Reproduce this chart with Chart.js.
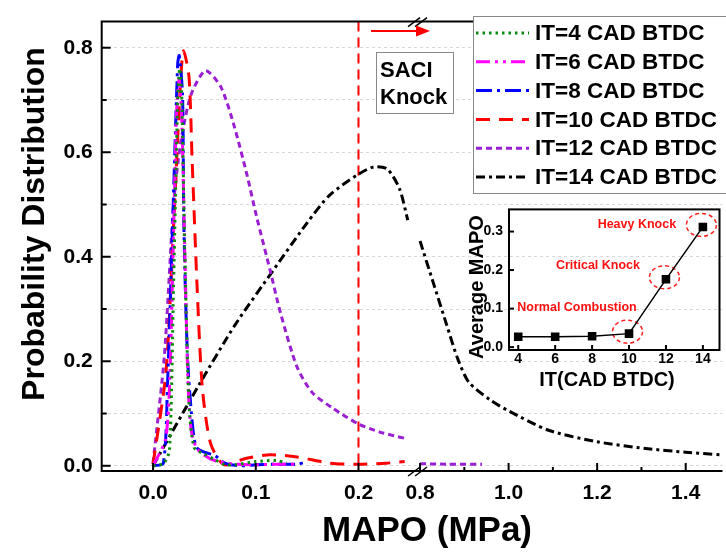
<!DOCTYPE html>
<html>
<head>
<meta charset="utf-8">
<script src="https://cdn.jsdelivr.net/npm/chart.js@4.4.1/dist/chart.umd.min.js"></script>
<style>
  html, body { margin: 0; padding: 0; background: #fff; }
  #wrap { position: relative; width: 726px; height: 554px; overflow: hidden; }
  #main { position: absolute; left: 0; top: 0; }
  #inset { position: absolute; left: 460px; top: 195px; }
</style>
</head>
<body>
<div id="wrap">
  <canvas id="main" width="726" height="554"></canvas>
  <canvas id="inset" width="266" height="205"></canvas>
</div>
<script>
// ---- data: MAPO (MPa) vs probability, left part of the broken axis ----
const it4X = [0, 0.01, 0.016, 0.02, 0.024, 0.026, 0.028, 0.031, 0.035, 0.04, 0.05, 0.06, 0.07, 0.08, 0.1, 0.12, 0.13];
const it4Y = [0, 0.004, 0.03, 0.35, 0.70, 0.76, 0.70, 0.40, 0.12, 0.035, 0.022, 0.012, 0.002, 0.002, 0.008, 0.01, 0.005];

const it6X = [0, 0.012, 0.016, 0.02, 0.023, 0.0255, 0.028, 0.031, 0.034, 0.037, 0.042, 0.05, 0.06, 0.075, 0.1, 0.12, 0.14];
const it6Y = [0, 0.05, 0.15, 0.45, 0.68, 0.74, 0.66, 0.40, 0.16, 0.07, 0.035, 0.02, 0.01, 0.004, 0.002, 0.003, 0.003];

const it8X = [0, 0.01, 0.014, 0.019, 0.024, 0.0255, 0.0287, 0.03, 0.0335, 0.038, 0.042, 0.05, 0.06, 0.07, 0.085, 0.1, 0.12, 0.14, 0.15];
const it8Y = [0, 0.005, 0.15, 0.46, 0.77, 0.785, 0.71, 0.46, 0.21, 0.086, 0.036, 0.026, 0.02, 0.005, 0, 0.002, 0.003, 0.003, 0.008];

const it10X = [0, 0.0126, 0.02, 0.027, 0.0297, 0.035, 0.038, 0.043, 0.048, 0.056, 0.069, 0.09, 0.114, 0.14, 0.172, 0.2, 0.227, 0.245];
const it10Y = [0.003, 0.18, 0.46, 0.744, 0.794, 0.744, 0.587, 0.337, 0.149, 0.043, 0.002, 0.014, 0.021, 0.017, 0.005, 0.003, 0.005, 0.008];

const it12X = [0, 0.011, 0.02, 0.027, 0.037, 0.051, 0.066, 0.079, 0.0915, 0.101, 0.114, 0.124, 0.14, 0.155, 0.175, 0.2, 0.22, 0.246];
const it12Y = [0.005, 0.21, 0.50, 0.62, 0.71, 0.756, 0.725, 0.65, 0.556, 0.475, 0.374, 0.293, 0.19, 0.14, 0.11, 0.08, 0.065, 0.052];

const it14X = [0, 0.043, 0.08, 0.117, 0.15, 0.172, 0.2, 0.215, 0.228, 0.24, 0.248];
const it14Y = [0, 0.149, 0.27, 0.374, 0.465, 0.518, 0.558, 0.572, 0.568, 0.53, 0.47];

// right part of the broken axis (0.8 - 1.48 MPa)
const it12RightX = [0.8, 0.86, 0.94];
const it12RightY = [0.004, 0.003, 0.003];

const it14RightX = [0.8, 0.83, 0.86, 0.885, 0.91, 0.96, 1.0, 1.09, 1.2, 1.31, 1.4, 1.48];
const it14RightY = [0.43, 0.35, 0.27, 0.205, 0.16, 0.125, 0.105, 0.068, 0.046, 0.033, 0.026, 0.021];

const leftTicks = [0, 0.1, 0.2];
const rightTicks = [0.8, 0.9, 1.0, 1.1, 1.2, 1.3, 1.4];
const yTicks = [0, 0.1, 0.2, 0.3, 0.4, 0.5, 0.6, 0.7, 0.8];
const knockThreshold = 0.2;

// inset: average MAPO vs injection timing
const itValues = [4, 6, 8, 10, 12, 14];
const avgMapo = [0.027, 0.027, 0.028, 0.035, 0.176, 0.312];
const insetYTicks = [0, 0.1, 0.2, 0.3];
const stageNames = ['Normal Combustion', 'Critical Knock', 'Heavy Knock'];
const stageIT = [10, 12, 14];

const FONT = "'Liberation Sans', Arial, sans-serif";

function pts(xs, ys) {
    return xs.map((x, i) => ({ x: x, y: ys[i] }));
}

function line(label, xs, ys, color, dash, axis) {
    return {
        label: label,
        data: pts(xs, ys),
        xAxisID: axis || 'x',
        borderColor: color,
        borderDash: dash,
        borderWidth: 3,
        borderCapStyle: 'butt',
        pointRadius: 0,
        tension: 0.25,
        fill: false
    };
}

const styles = {
    it4: ['#0a8a0a', [2.5, 4]],
    it6: ['#ff00ff', [14, 5, 3, 5, 3, 5]],
    it8: ['#0000ff', [16, 5, 3, 5]],
    it10: ['#ff0000', [14, 9]],
    it12: ['#9a1fd3', [6, 4]],
    it14: ['#000000', [9, 4, 3, 4]]
};

const datasets = [
    line('IT=4 CAD BTDC', it4X, it4Y, ...styles.it4),
    line('IT=6 CAD BTDC', it6X, it6Y, ...styles.it6),
    line('IT=8 CAD BTDC', it8X, it8Y, ...styles.it8),
    line('IT=10 CAD BTDC', it10X, it10Y, ...styles.it10),
    line('IT=12 CAD BTDC', it12X, it12Y, ...styles.it12),
    line('IT=14 CAD BTDC', it14X, it14Y, ...styles.it14),
    line('', it12RightX, it12RightY, ...styles.it12, 'x2'),
    line('', it14RightX, it14RightY, ...styles.it14, 'x2')
];

function drawInwardTicks(ctx, scale, majorLen, minorLen, isMajor) {
    ctx.save();
    ctx.strokeStyle = '#000';
    ctx.lineWidth = 2;
    scale.ticks.forEach(t => {
        const len = isMajor(t.value) ? majorLen : minorLen;
        const p = scale.getPixelForValue(t.value);
        ctx.beginPath();
        if (scale.isHorizontal()) {
            ctx.moveTo(p, scale.top);
            ctx.lineTo(p, scale.top - len);
        } else {
            ctx.moveTo(scale.right, p);
            ctx.lineTo(scale.right + len, p);
        }
        ctx.stroke();
    });
    ctx.restore();
}

const evenTenth = v => Math.round(v * 10) % 2 === 0;

function breakMark(ctx, x, y) {
    ctx.save();
    ctx.strokeStyle = '#000';
    ctx.lineWidth = 1.5;
    [-4, 3].forEach(o => {
        ctx.beginPath();
        ctx.moveTo(x + o - 6, y + 5);
        ctx.lineTo(x + o + 6, y - 4);
        ctx.stroke();
    });
    ctx.restore();
}

const mainDecor = {
    id: 'mainDecor',
    beforeDatasetsDraw(chart) {
        const ctx = chart.ctx, a = chart.chartArea;
        const px = chart.scales.x.getPixelForValue(knockThreshold);
        ctx.save();
        ctx.strokeStyle = '#ff0000';
        ctx.lineWidth = 2;
        ctx.setLineDash([10, 6]);
        ctx.beginPath();
        ctx.moveTo(px, a.top);
        ctx.lineTo(px, a.bottom);
        ctx.stroke();
        ctx.restore();
    },
    afterDraw(chart) {
        const ctx = chart.ctx, a = chart.chartArea;
        const xs = chart.scales.x, x2 = chart.scales.x2, ys = chart.scales.y;

        // axis lines
        ctx.save();
        ctx.strokeStyle = '#000';
        ctx.lineWidth = 2;
        ctx.beginPath();
        ctx.moveTo(a.left, a.top);
        ctx.lineTo(a.right, a.top);
        ctx.moveTo(a.left, a.top - 1);
        ctx.lineTo(a.left, a.bottom + 1);
        ctx.moveTo(a.left - 1, a.bottom);
        ctx.lineTo(a.right, a.bottom);
        ctx.stroke();
        ctx.restore();

        drawInwardTicks(ctx, ys, 9, 5, evenTenth);
        drawInwardTicks(ctx, xs, 8, 4, () => true);
        drawInwardTicks(ctx, x2, 8, 4, evenTenth);

        breakMark(ctx, xs.right, a.bottom);
        breakMark(ctx, xs.right, a.top);

        // arrow pointing into the knock region
        ctx.save();
        ctx.strokeStyle = '#ff0000';
        ctx.fillStyle = '#ff0000';
        ctx.lineWidth = 2;
        ctx.beginPath();
        ctx.moveTo(371, 31);
        ctx.lineTo(418, 31);
        ctx.stroke();
        ctx.beginPath();
        ctx.moveTo(430, 31);
        ctx.lineTo(416, 25.5);
        ctx.lineTo(416, 36.5);
        ctx.closePath();
        ctx.fill();
        ctx.restore();

        // SACI Knock box
        ctx.save();
        ctx.fillStyle = '#fff';
        ctx.fillRect(376, 52, 77, 61);
        ctx.strokeStyle = '#888';
        ctx.lineWidth = 1;
        ctx.strokeRect(376.5, 52.5, 77, 61);
        ctx.fillStyle = '#000';
        ctx.font = 'bold 22px ' + FONT;
        ctx.textAlign = 'left';
        ctx.textBaseline = 'middle';
        ctx.fillText('SACI', 380, 71);
        ctx.fillText('Knock', 380, 98);
        ctx.restore();

        // legend box
        ctx.save();
        ctx.fillStyle = '#fff';
        ctx.fillRect(473, 16, 260, 177);
        ctx.strokeStyle = '#888';
        ctx.lineWidth = 1;
        ctx.strokeRect(473.5, 16.5, 260, 177);
        ctx.font = 'bold 22.5px ' + FONT;
        ctx.textAlign = 'left';
        ctx.textBaseline = 'middle';
        chart.data.datasets.filter(d => d.label).forEach((d, i) => {
            const y = 33 + i * 28.8;
            ctx.strokeStyle = d.borderColor;
            ctx.lineWidth = 3;
            ctx.setLineDash(d.borderDash);
            ctx.beginPath();
            ctx.moveTo(476, y);
            ctx.lineTo(529, y);
            ctx.stroke();
            ctx.setLineDash([]);
            ctx.fillStyle = '#000';
            ctx.fillText(d.label, 535, y + 1);
        });
        ctx.restore();

        // axis titles
        ctx.save();
        ctx.fillStyle = '#000';
        ctx.textAlign = 'center';
        ctx.textBaseline = 'middle';
        ctx.font = 'bold 35px ' + FONT;
        ctx.fillText('MAPO (MPa)', 427, 531);
        ctx.translate(35, 224);
        ctx.rotate(-Math.PI / 2);
        ctx.font = 'bold 32px ' + FONT;
        ctx.fillText('Probability Distribution', 0, 0);
        ctx.restore();
    }
};

const tickFont = { family: FONT, size: 21, weight: 'bold' };

new Chart(document.getElementById('main'), {
    type: 'line',
    data: { datasets: datasets },
    options: {
        responsive: false,
        animation: false,
        layout: { padding: { top: 13, right: 0, left: 0, bottom: 0 } },
        plugins: { legend: { display: false }, tooltip: { enabled: false } },
        scales: {
            x: {
                type: 'linear', position: 'bottom', stack: 'mapo', stackWeight: 318,
                min: -0.05, max: 0.258,
                afterBuildTicks: s => { s.ticks = leftTicks.map(v => ({ value: v })); },
                afterFit: s => { s.height = 83; },
                grid: { display: false, drawTicks: false },
                border: { display: false },
                ticks: { autoSkip: false, maxRotation: 0, padding: 10, color: '#000', font: tickFont,
                    callback: v => v.toFixed(1) }
            },
            x2: {
                type: 'linear', position: 'bottom', stack: 'mapo', stackWeight: 306,
                min: 0.7955, max: 1.483,
                afterBuildTicks: s => { s.ticks = rightTicks.map(v => ({ value: v })); },
                afterFit: s => { s.height = 83; },
                grid: { display: false, drawTicks: false },
                border: { display: false },
                ticks: { autoSkip: false, maxRotation: 0, padding: 10, color: '#000', font: tickFont,
                    callback: v => evenTenth(v) ? v.toFixed(1) : '' }
            },
            y: {
                type: 'linear', position: 'left',
                min: -0.01, max: 0.85,
                afterBuildTicks: s => { s.ticks = yTicks.map(v => ({ value: v })); },
                afterFit: s => { s.width = 101.7; },
                grid: { display: true, drawTicks: false, color: '#d8d8d8', lineWidth: 1 },
                border: { display: false, dash: [3, 3] },
                ticks: { autoSkip: false, padding: 9, color: '#000', font: tickFont,
                    callback: v => evenTenth(v) ? v.toFixed(1) : '' }
            }
        }
    },
    plugins: [mainDecor]
});

// ---- inset chart ----
const insetDecor = {
    id: 'insetDecor',
    beforeDatasetsDraw(chart) {
        const ctx = chart.ctx, xs = chart.scales.x, ys = chart.scales.y;
        ctx.save();
        ctx.strokeStyle = '#ff2020';
        ctx.lineWidth = 1.5;
        ctx.setLineDash([4, 3]);
        stageIT.forEach(it => {
            const i = itValues.indexOf(it);
            const cx = xs.getPixelForValue(it) - 1.5;
            const cy = ys.getPixelForValue(avgMapo[i]) - 2;
            ctx.beginPath();
            ctx.ellipse(cx, cy, 15, 11.5, 0, 0, Math.PI * 2);
            ctx.stroke();
        });
        ctx.restore();
    },
    afterDraw(chart) {
        const ctx = chart.ctx, a = chart.chartArea, xs = chart.scales.x, ys = chart.scales.y;
        ctx.save();
        ctx.strokeStyle = '#000';
        ctx.lineWidth = 2;
        ctx.strokeRect(a.left, a.top, a.right - a.left, a.bottom - a.top);
        ctx.restore();
        drawInwardTicks(ctx, xs, 5, 5, () => true);
        drawInwardTicks(ctx, ys, 5, 5, () => true);

        // stage labels, placed up-left of the circled points
        const offsets = [[-52, -26], [-68, -14], [-66, -2]];
        ctx.save();
        ctx.fillStyle = '#ff1010';
        ctx.font = 'bold 12.5px ' + FONT;
        ctx.textAlign = 'center';
        ctx.textBaseline = 'middle';
        stageNames.forEach((name, k) => {
            const i = itValues.indexOf(stageIT[k]);
            ctx.fillText(name,
                xs.getPixelForValue(stageIT[k]) + offsets[k][0],
                ys.getPixelForValue(avgMapo[i]) + offsets[k][1]);
        });
        ctx.restore();

        ctx.save();
        ctx.fillStyle = '#000';
        ctx.textAlign = 'center';
        ctx.textBaseline = 'middle';
        ctx.font = 'bold 20px ' + FONT;
        ctx.fillText('IT(CAD BTDC)', 147, 185);
        ctx.translate(17, 92);
        ctx.rotate(-Math.PI / 2);
        ctx.fillText('Average MAPO', 0, 0);
        ctx.restore();
    }
};

const insetFont = { family: FONT, size: 14, weight: 'bold' };

new Chart(document.getElementById('inset'), {
    type: 'line',
    data: {
        datasets: [{
            data: pts(itValues, avgMapo),
            borderColor: '#000',
            borderWidth: 1.5,
            pointStyle: 'rect',
            pointRadius: 5,
            pointBackgroundColor: '#000',
            pointBorderColor: '#000',
            tension: 0
        }]
    },
    options: {
        responsive: false,
        animation: false,
        layout: { padding: { top: 12, right: 6, left: 0, bottom: 0 } },
        plugins: { legend: { display: false }, tooltip: { enabled: false } },
        scales: {
            x: {
                type: 'linear', min: 3.5, max: 14.9,
                afterBuildTicks: s => { s.ticks = itValues.map(v => ({ value: v })); },
                afterFit: s => { s.height = 50; },
                grid: { display: false, drawTicks: false },
                border: { display: false },
                ticks: { autoSkip: false, maxRotation: 0, padding: 1, color: '#000', font: insetFont }
            },
            y: {
                type: 'linear', min: -0.0075, max: 0.3575,
                afterBuildTicks: s => { s.ticks = insetYTicks.map(v => ({ value: v })); },
                afterFit: s => { s.width = 49; },
                grid: { display: false, drawTicks: false },
                border: { display: false },
                ticks: { autoSkip: false, padding: 6, color: '#000', font: insetFont,
                    callback: v => v.toFixed(1) }
            }
        }
    },
    plugins: [insetDecor]
});
</script>
</body>
</html>
